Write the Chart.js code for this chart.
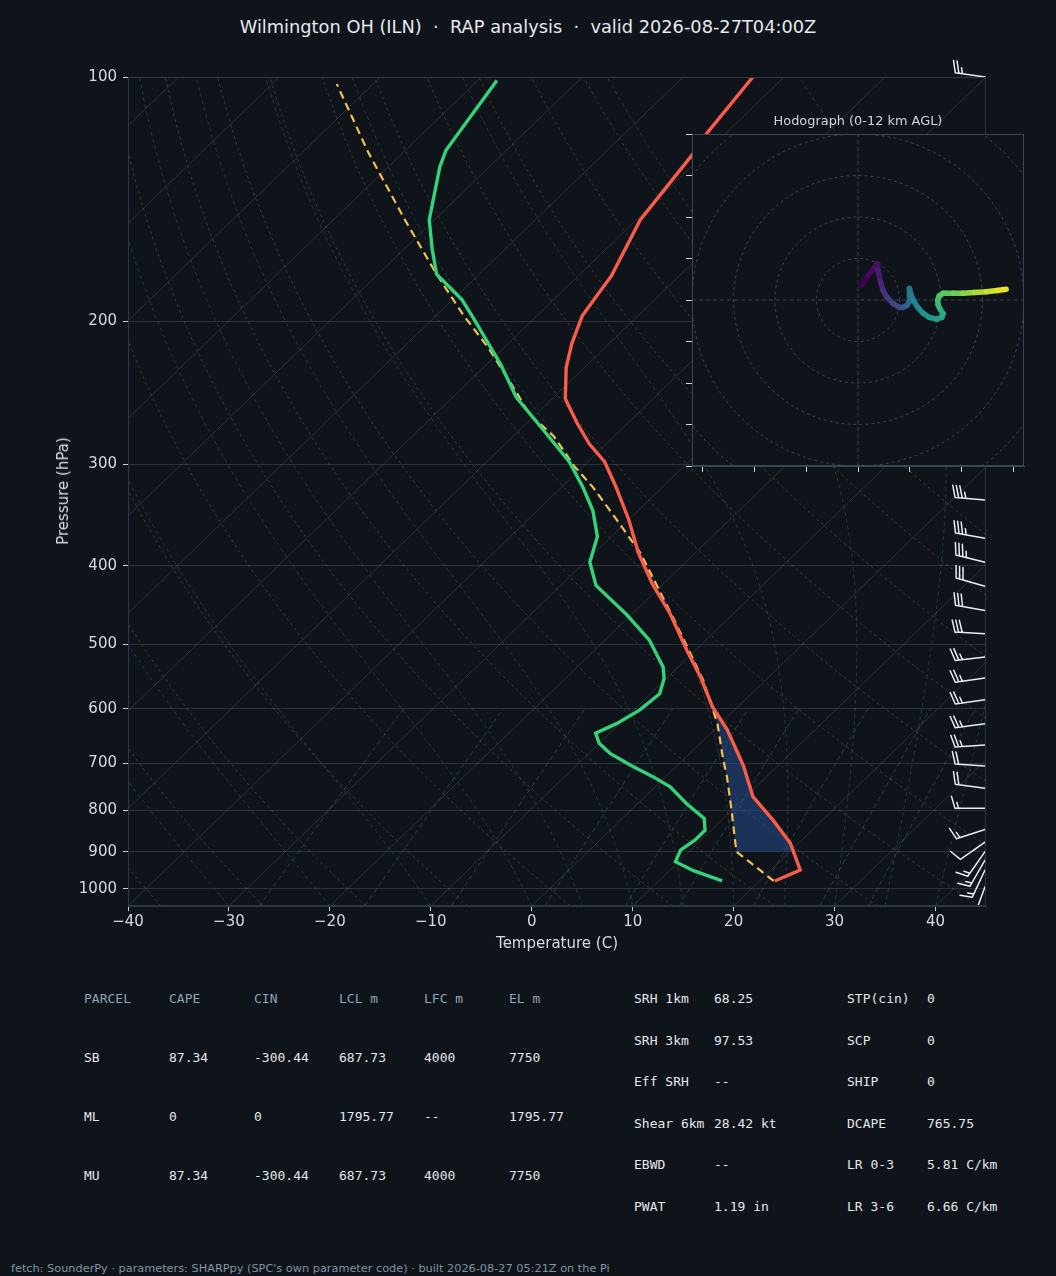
<!DOCTYPE html>
<html><head><meta charset="utf-8">
<script src="https://cdn.jsdelivr.net/npm/chart.js@4.4.1/dist/chart.umd.min.js"></script>
<style>
html,body{margin:0;padding:0;background:#0f131a;}
body{width:1056px;height:1276px;position:relative;overflow:hidden;font-family:'DejaVu Sans',sans-serif;}
.abs{position:absolute;white-space:pre;}
#title{left:0;width:1056px;top:16px;text-align:center;font-size:17.8px;color:#e6e9ed;line-height:22px;}
#xlabel{left:557px;top:943px;transform:translate(-50%,-50%);font-size:15px;color:#d7dbe0;}
#ylabel{left:63px;top:491px;transform:translate(-50%,-50%) rotate(-90deg);font-size:15px;color:#d7dbe0;}
#hodotitle{left:858px;top:120px;transform:translate(-50%,-50%);font-size:12.9px;color:#d0d5db;}
.mono{font-family:'DejaVu Sans Mono',monospace;font-size:13px;line-height:16px;}
#footer{left:11px;top:1262px;font-size:11.3px;color:#8194a8;line-height:14px;}
canvas{position:absolute;}
</style></head>
<body>
<div id="title" class="abs">Wilmington OH (ILN)  ·  RAP analysis  ·  valid 2026-08-27T04:00Z</div>
<canvas id="main" width="1056" height="960" style="left:0;top:0;width:1056px;height:960px"></canvas>
<canvas id="hodo" width="362" height="352" style="left:672px;top:124px;width:362px;height:352px"></canvas>
<div id="hodotitle" class="abs">Hodograph (0-12 km AGL)</div>
<div id="xlabel" class="abs">Temperature (C)</div>
<div id="ylabel" class="abs">Pressure (hPa)</div>
<div id="footer" class="abs">fetch: SounderPy · parameters: SHARPpy (SPC's own parameter code) · built 2026-08-27 05:21Z on the Pi</div>
<script>
// ---------------- data ----------------
const tempP = [978, 948, 879, 823, 770, 707, 688, 637, 597, 548, 508, 458, 421, 386, 351, 320, 298, 283, 267, 249, 228, 213, 197, 183, 176, 150, 125, 117, 100];
const tempT = [21.5, 22.9, 19.2, 15.1, 10.7, 6.7, 5.3, 1.3, -2.5, -6.8, -10.9, -16.3, -21.1, -25.6, -30.0, -34.6, -38.3, -41.7, -45.0, -48.7, -51.8, -53.7, -55.5, -56.3, -56.7, -59.6, -61.1, -61.9, -63.1];
const dewP = [978, 950, 926, 896, 871, 847, 819, 785, 749, 728, 704, 681, 662, 643, 626, 602, 575, 551, 533, 494, 460, 423, 396, 368, 342, 320, 298, 272, 248, 226, 198, 188, 175, 163, 150, 129, 123, 101];
const dewT = [16.3, 12.4, 9.7, 9.0, 9.4, 9.4, 8.1, 4.8, 1.5, -1.2, -4.7, -7.9, -10.0, -11.4, -10.3, -9.4, -9.1, -10.2, -11.5, -15.6, -20.4, -26.5, -29.5, -31.4, -34.5, -37.9, -41.8, -47.7, -53.7, -58.6, -66.1, -69.1, -74.2, -77.2, -80.5, -84.9, -86.0, -88.1];
const parcelP = [978, 900, 793, 728, 694, 626, 553, 464, 386, 351, 320, 302, 277, 260, 242, 215, 197, 175, 150, 124, 102];
const parcelT = [21.4, 14.7, 9.6, 6.1, 4.0, -0.3, -6.2, -15.5, -25.4, -31.2, -36.9, -40.8, -46.0, -50.7, -54.8, -61.7, -67.2, -74.2, -82.9, -93.4, -103.6];
const cinBottomP = 900, cinTopP = 595;

const pressureTicks = [100, 200, 300, 400, 500, 600, 700, 800, 900, 1000];
const tempTicks = [-40, -30, -20, -10, 0, 10, 20, 30, 40];

const barbP   = [100, 332, 370, 396, 424, 454, 485, 518, 550, 585, 626, 665, 706, 752, 796, 845, 876, 900, 922, 948, 994];
const barbDir = [278, 275, 280, 284, 286, 280, 273, 263, 262, 262, 262, 266, 274, 278, 270, 252, 235, 215, 210, 205, 200];
const barbSpd = [25, 35, 35, 35, 30, 30, 30, 25, 25, 25, 25, 25, 20, 20, 15, 15, 10, 15, 15, 15, 10];

const hodoZ = [0, 0.3, 0.6, 0.9, 1.3, 1.6, 2.0, 2.4, 2.8, 3.2, 3.6, 4.0, 4.3, 4.6, 4.9, 5.2, 5.6, 6.0, 6.4, 6.8, 7.1, 7.4, 7.7, 8.0, 8.3, 8.6, 8.9, 9.4, 9.9, 10.5, 11.0, 11.5, 12.0];
const hodoU = [0.8, 2.5, 4.6, 4.8, 5.4, 6.0, 7.0, 8.4, 9.8, 10.8, 11.8, 12.3, 12.4, 12.4, 12.8, 13.3, 14.4, 15.7, 17.2, 18.9, 20.2, 20.5, 19.8, 19.3, 19.2, 19.6, 20.5, 23.0, 25.3, 28.0, 30.9, 33.5, 35.7];
const hodoV = [3.5, 6.0, 8.7, 7.2, 4.5, 2.4, 0.6, -0.8, -1.7, -1.8, -1.3, -0.4, 1.2, 2.8, 1.2, 0.0, -1.8, -3.2, -4.2, -4.6, -4.2, -3.3, -2.2, -1.2, 0.0, 1.0, 1.6, 1.6, 1.6, 1.8, 2.0, 2.3, 2.6];
const hodoRings = [10, 20, 30, 40, 50];
const hodoXTicks = [-37.5, -25, -12.5, 0, 12.5, 25, 37.5];
const hodoYTicks = [-40, -30, -20, -10, 0, 10, 20, 30, 40];

const parcelHdr = ['PARCEL', 'CAPE', 'CIN', 'LCL m', 'LFC m', 'EL m'];
const parcelNames = ['SB', 'ML', 'MU'];
const parcelCape = ['87.34', '0', '87.34'];
const parcelCin = ['-300.44', '0', '-300.44'];
const parcelLcl = ['687.73', '1795.77', '687.73'];
const parcelLfc = ['4000', '--', '4000'];
const parcelEl = ['7750', '1795.77', '7750'];
const statLabelsA = ['SRH 1km', 'SRH 3km', 'Eff SRH', 'Shear 6km', 'EBWD', 'PWAT'];
const statValsA = ['68.25', '97.53', '--', '28.42 kt', '--', '1.19 in'];
const statLabelsB = ['STP(cin)', 'SCP', 'SHIP', 'DCAPE', 'LR 0-3', 'LR 3-6'];
const statValsB = ['0', '0', '0', '765.75', '5.81 C/km', '6.66 C/km'];

// ---------------- text tables ----------------
function addText(txt, x, yc, color) {
  const d = document.createElement('div');
  d.className = 'abs mono';
  d.style.left = x + 'px'; d.style.top = (yc - 8) + 'px'; d.style.color = color;
  d.textContent = txt; document.body.appendChild(d);
}
const colX = [84, 169, 254, 339, 424, 509];
const rowY = [999, 1058, 1117, 1176];
parcelHdr.forEach((h, i) => addText(h, colX[i], rowY[0], '#8ea3ba'));
const cols = [parcelNames, parcelCape, parcelCin, parcelLcl, parcelLfc, parcelEl];
parcelNames.forEach((_, r) => cols.forEach((c, i) => addText(c[r], colX[i], rowY[r + 1], '#e4e7eb')));
const statY = [999, 1041, 1082, 1124, 1165, 1207];
statLabelsA.forEach((l, i) => { addText(l, 634, statY[i], '#e4e7eb'); addText(statValsA[i], 714, statY[i], '#e4e7eb'); });
statLabelsB.forEach((l, i) => { addText(l, 847, statY[i], '#e4e7eb'); addText(statValsB[i], 927, statY[i], '#e4e7eb'); });

// ---------------- skew-T helpers ----------------
const PBOT = 1050, PTOP = 100;
const LB = Math.log10(PBOT), LT = Math.log10(PTOP);
const XSPAN = 85;
function skewX(T, p) { return T + XSPAN * (LB - Math.log10(p)) / (LB - LT); }
function interpT(P, T, p) {
  for (let i = 0; i < P.length - 1; i++) {
    if ((P[i] - p) * (P[i + 1] - p) <= 0) {
      const f = (Math.log(p) - Math.log(P[i])) / (Math.log(P[i + 1]) - Math.log(P[i]));
      return T[i] + f * (T[i + 1] - T[i]);
    }
  }
  return T[T.length - 1];
}
function lineDS(points, color, dash, width, order) {
  return { data: points, showLine: true, borderColor: color, borderWidth: width, borderDash: dash,
    pointRadius: 0, pointHoverRadius: 0, fill: false, order: order, tension: 0 };
}
const datasets = [];
const levels = []; for (let p = PBOT; p >= PTOP; p -= 10) levels.push(p);

// isotherms
for (let T = -130; T <= 50; T += 10) {
  datasets.push(lineDS([{ x: skewX(T, PBOT), y: PBOT }, { x: skewX(T, PTOP), y: PTOP }], 'rgba(140,152,166,0.22)', [], 1, 20));
}
// dry adiabats
for (let T0 = -50; T0 <= 100; T0 += 10) {
  const pts = levels.map(p => ({ x: skewX((T0 + 273.15) * Math.pow(p / 1000, 0.2857) - 273.15, p), y: p }));
  datasets.push(lineDS(pts, 'rgba(196,146,80,0.30)', [3, 3], 1, 20));
}
// moist adiabats
function moistDT(p, T) {
  const Rd = 287.04, Cp = 1005.7, Lv = 2.501e6, eps = 0.622;
  const Tc = T - 273.15;
  const es = 6.112 * Math.exp(17.67 * Tc / (Tc + 243.5));
  const rs = eps * es / (p - es);
  return (1 / p) * (Rd * T + Lv * rs) / (Cp + Lv * Lv * rs * eps / (Rd * T * T));
}
const moistStarts = [-50, -40, -30, -20, -10, 0, 5, 10, 15, 20, 25, 30, 35, 40, 45, 50];
moistStarts.forEach(T0 => {
  let T = T0 + 273.15; const pts = [{ x: skewX(T0, PBOT), y: PBOT }];
  for (let p = PBOT; p > PTOP; p -= 5) {
    const h = -5;
    const k1 = moistDT(p, T), k2 = moistDT(p + h / 2, T + h / 2 * k1), k3 = moistDT(p + h / 2, T + h / 2 * k2), k4 = moistDT(p + h, T + h * k3);
    T += h / 6 * (k1 + 2 * k2 + 2 * k3 + k4);
    if ((p + h) % 10 === 0) pts.push({ x: skewX(T - 273.15, p + h), y: p + h });
  }
  datasets.push(lineDS(pts, 'rgba(72,140,150,0.32)', [4, 3], 1, 20));
});
// mixing ratio lines
[0.4, 1, 2, 4, 7, 10, 16, 24, 32].forEach(w => {
  const wk = w / 1000; const pts = [];
  for (let p = PBOT; p >= 600; p -= 10) {
    const e = p * wk / (0.622 + wk); const l = Math.log(e / 6.112);
    pts.push({ x: skewX(243.5 * l / (17.67 - l), p), y: p });
  }
  datasets.push(lineDS(pts, 'rgba(84,128,176,0.38)', [5, 3], 1, 20));
});

// CIN shading polygon
const cinPoly = [];
cinPoly.push({ x: skewX(interpT(tempP, tempT, cinBottomP), cinBottomP), y: cinBottomP });
tempP.forEach((p, i) => { if (p < cinBottomP && p > cinTopP) cinPoly.push({ x: skewX(tempT[i], p), y: p }); });
cinPoly.push({ x: skewX(interpT(tempP, tempT, cinTopP), cinTopP), y: cinTopP });
cinPoly.push({ x: skewX(interpT(parcelP, parcelT, cinTopP), cinTopP), y: cinTopP });
for (let i = parcelP.length - 1; i >= 0; i--) { const p = parcelP[i]; if (p < cinBottomP && p > cinTopP) cinPoly.push({ x: skewX(parcelT[i], p), y: p }); }
cinPoly.push({ x: skewX(interpT(parcelP, parcelT, cinBottomP), cinBottomP), y: cinBottomP });
datasets.push({ data: cinPoly, showLine: true, borderColor: 'transparent', borderWidth: 0.01, pointRadius: 0,
  fill: 'shape', backgroundColor: 'rgba(38,78,140,0.55)', order: 10, tension: 0 });

// profiles
datasets.push(lineDS(parcelP.map((p, i) => ({ x: skewX(parcelT[i], p), y: p })), '#f2c14e', [8, 5], 2.2, 3));
datasets.push(lineDS(dewP.map((p, i) => ({ x: skewX(dewT[i], p), y: p })), '#34d27b', [], 3.4, 2));
datasets.push(lineDS(tempP.map((p, i) => ({ x: skewX(tempT[i], p), y: p })), '#fa5c4c', [], 3.4, 1));

const borderPlugin = {
  id: 'frame',
  afterDraw(chart) {
    const { ctx, chartArea: a } = chart;
    ctx.save(); ctx.strokeStyle = '#2e3744'; ctx.lineWidth = 1;
    ctx.strokeRect(a.left + 0.5, a.top + 0.5, a.right - a.left - 1, a.bottom - a.top - 1);
    ctx.restore();
  }
};
const barbPlugin = {
  id: 'barbs',
  afterDatasetsDraw(chart) {
    const { ctx, chartArea, scales } = chart;
    ctx.save();
    ctx.beginPath(); ctx.rect(chartArea.left, 0, chartArea.right - chartArea.left + 10, chartArea.bottom); ctx.clip();
    ctx.strokeStyle = '#e8ecf0'; ctx.lineWidth = 1.5; ctx.lineCap = 'round';
    for (let i = 0; i < barbP.length; i++) {
      const py = scales.y.getPixelForValue(barbP[i]);
      const px = chartArea.right - 1;
      const a = barbDir[i] * Math.PI / 180;
      const sx = Math.sin(a), sy = -Math.cos(a);
      const L = 30;
      const tx = px + sx * L, ty = py + sy * L;
      const nx = -sy, ny = sx;
      ctx.beginPath(); ctx.moveTo(px, py); ctx.lineTo(tx, ty);
      const spd = Math.round(barbSpd[i] / 5) * 5;
      const nLong = Math.floor(spd / 10), half = (spd % 10) >= 5;
      const gap = 3.6; let pos = 0;
      for (let k = 0; k < nLong; k++) {
        const bx = tx - sx * pos, by = ty - sy * pos;
        ctx.moveTo(bx, by); ctx.lineTo(bx + nx * 12 + sx * 3.5, by + ny * 12 + sy * 3.5);
        pos += gap;
      }
      if (half) {
        if (nLong === 0) pos = gap;
        const bx = tx - sx * pos, by = ty - sy * pos;
        ctx.moveTo(bx, by); ctx.lineTo(bx + nx * 6 + sx * 1.75, by + ny * 6 + sy * 1.75);
      }
      ctx.stroke();
    }
    ctx.restore();
  }
};
const fmtT = v => (v < 0 ? '\u2212' + Math.abs(v) : String(v));
new Chart(document.getElementById('main'), {
  type: 'scatter',
  data: { datasets },
  options: {
    responsive: false, animation: false, events: [],
    layout: { padding: { left: 58, top: 77, right: 70, bottom: 4 } },
    scales: {
      x: { type: 'linear', min: -40, max: 45,
        afterBuildTicks: s => { s.ticks = tempTicks.map(v => ({ value: v })); },
        afterFit: s => { s.height = 50; },
        ticks: { callback: v => fmtT(v), color: '#d7dbe0', font: { family: 'DejaVu Sans', size: 15 }, padding: 2, maxRotation: 0 },
        grid: { drawOnChartArea: false, tickLength: 5, tickColor: '#c8ced6' },
        border: { color: '#2e3744' } },
      y: { type: 'logarithmic', reverse: true, min: PTOP, max: PBOT,
        afterBuildTicks: s => { s.ticks = pressureTicks.map(v => ({ value: v })); },
        afterFit: s => { s.width = 70; },
        ticks: { callback: v => String(v), color: '#d7dbe0', font: { family: 'DejaVu Sans', size: 15 }, padding: 6 },
        grid: { color: 'rgba(120,132,148,0.28)', lineWidth: 1, tickLength: 5, tickColor: '#c8ced6' },
        border: { color: '#2e3744' } }
    },
    plugins: { legend: { display: false }, tooltip: { enabled: false } }
  },
  plugins: [borderPlugin, barbPlugin]
});

// ---------------- hodograph ----------------
const viridisStops = ['#440154', '#482475', '#414487', '#355f8d', '#2a788e', '#21918c', '#22a884', '#44bf70', '#7ad151', '#bddf26', '#fde725'];
function hex2rgb(h) { return [parseInt(h.slice(1, 3), 16), parseInt(h.slice(3, 5), 16), parseInt(h.slice(5, 7), 16)]; }
function viridis(t) {
  t = Math.max(0, Math.min(1, t)); const s = t * 10; const i = Math.min(9, Math.floor(s)); const f = s - i;
  const a = hex2rgb(viridisStops[i]), b = hex2rgb(viridisStops[i + 1]);
  return 'rgb(' + a.map((v, k) => Math.round(v + (b[k] - v) * f)).join(',') + ')';
}
const hds = [];
const gridCol = 'rgba(96,110,126,0.55)';
hodoRings.forEach(r => {
  const pts = []; for (let a = 0; a <= 360; a += 3) pts.push({ x: r * Math.cos(a * Math.PI / 180), y: r * Math.sin(a * Math.PI / 180) });
  hds.push(lineDS(pts, gridCol, [3, 3], 1, 5));
});
hds.push(lineDS([{ x: -40, y: 0 }, { x: 40, y: 0 }], gridCol, [4, 3], 1, 5));
hds.push(lineDS([{ x: 0, y: -40 }, { x: 0, y: 40 }], gridCol, [4, 3], 1, 5));
hds.push({ data: hodoU.map((u, i) => ({ x: u, y: hodoV[i] })), showLine: true, borderWidth: 5.5, pointRadius: 0,
  borderCapStyle: 'round', borderJoinStyle: 'round', tension: 0, order: 0, borderColor: '#440154',
  segment: { borderColor: c => viridis(hodoZ[c.p0DataIndex] / 12) } });
const hodoBg = {
  id: 'hodobg',
  beforeDraw(chart) {
    const { ctx, chartArea: a } = chart;
    ctx.save(); ctx.fillStyle = '#0f131a'; ctx.fillRect(a.left, a.top, a.right - a.left, a.bottom - a.top); ctx.restore();
  },
  afterDraw(chart) {
    const { ctx, chartArea: a } = chart;
    ctx.save(); ctx.strokeStyle = '#3a4654'; ctx.lineWidth = 1;
    ctx.strokeRect(a.left + 0.5, a.top + 0.5, a.right - a.left - 1, a.bottom - a.top - 1); ctx.restore();
  }
};
new Chart(document.getElementById('hodo'), {
  type: 'scatter',
  data: { datasets: hds },
  options: {
    responsive: false, animation: false, events: [],
    layout: { padding: { left: 12, top: 10, right: 10, bottom: 2 } },
    scales: {
      x: { type: 'linear', min: -40, max: 40,
        afterBuildTicks: s => { s.ticks = hodoXTicks.map(v => ({ value: v })); },
        afterFit: s => { s.height = 8; },
        ticks: { display: false },
        grid: { drawOnChartArea: false, tickLength: 6, tickColor: '#d0d6dd' },
        border: { color: '#3a4654' } },
      y: { type: 'linear', min: -40, max: 40,
        afterBuildTicks: s => { s.ticks = hodoYTicks.map(v => ({ value: v })); },
        afterFit: s => { s.width = 8; },
        ticks: { display: false },
        grid: { drawOnChartArea: false, tickLength: 6, tickColor: '#d0d6dd' },
        border: { color: '#3a4654' } }
    },
    plugins: { legend: { display: false }, tooltip: { enabled: false } }
  },
  plugins: [hodoBg]
});
</script>
</body></html>
